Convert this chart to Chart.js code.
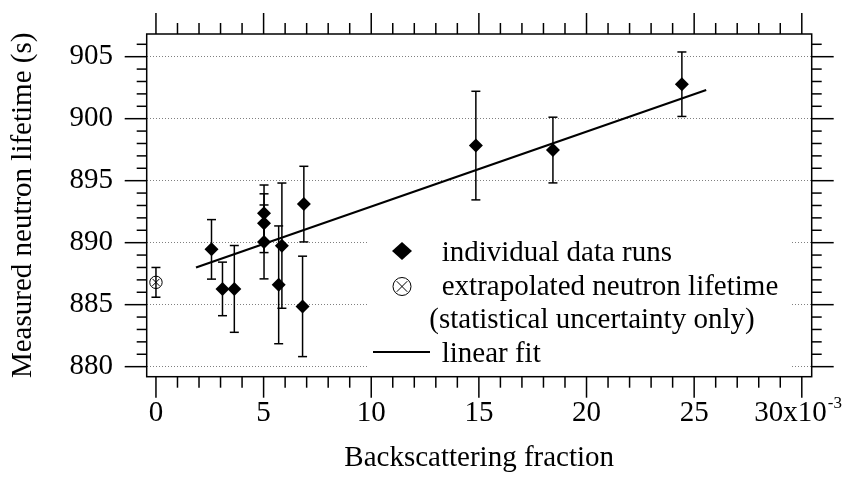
<!DOCTYPE html>
<html lang="en">
<head>
<meta charset="UTF-8">
<title>Neutron lifetime vs backscattering fraction</title>
<script src="https://cdn.jsdelivr.net/npm/chart.js"></script>
<style>
  html, body { margin: 0; padding: 0; background: #fff; }
  #wrap { width: 847px; height: 483px; }
</style>
</head>
<body>
<div id="wrap"><canvas id="chart" width="847" height="483"></canvas></div>
<script>
// backscattering fraction (units of 1e-3) and measured lifetime (s) per run
const runX   = [2.58, 3.09, 3.64, 5.02, 5.02, 5.02, 5.70, 5.85, 6.81, 6.87, 14.86, 18.44, 24.43];
const runY   = [889.46, 886.27, 886.27, 892.38, 891.57, 890.06, 886.6, 889.76, 884.86, 893.11, 897.83, 897.47, 902.78];
const runErr = [2.4, 2.16, 3.5, 2.27, 2.37, 2.98, 4.75, 5.05, 4.05, 3.05, 4.38, 2.65, 2.6];

// extrapolated lifetime at zero backscattering
const extrapX   = [0];
const extrapY   = [886.8];
const extrapErr = [1.2];

// ends of the linear fit
const fitX = [1.86, 25.56];
const fitY = [888.0, 902.31];

const xTicks = [0, 5, 10, 15, 20, 25, 30];
const yTicks = [880, 885, 890, 895, 900, 905];
const legendLabels = ['individual data runs', 'extrapolated neutron lifetime', '(statistical uncertainty only)', 'linear fit'];

const serif = '"Liberation Serif", "Times New Roman", serif';
const fontPx = 29;
Chart.defaults.font.family = serif;
Chart.defaults.color = '#000';

function line(ctx, x1, y1, x2, y2) {
    ctx.beginPath();
    ctx.moveTo(x1, y1);
    ctx.lineTo(x2, y2);
    ctx.stroke();
}

const decor = {
    id: 'decor',
    beforeDatasetsDraw(chart) {
        const { ctx } = chart;
        const xs = chart.scales.x, ys = chart.scales.y;
        ctx.save();
        ctx.strokeStyle = '#000';
        ctx.lineWidth = 1.5;
        [[runX, runY, runErr], [extrapX, extrapY, extrapErr]].forEach(([vx, vy, ve]) => {
            vx.forEach((v, i) => {
                const px = xs.getPixelForValue(v);
                const top = ys.getPixelForValue(vy[i] + ve[i]);
                const bot = ys.getPixelForValue(vy[i] - ve[i]);
                line(ctx, px, top, px, bot);
                line(ctx, px - 4.5, top, px + 4.5, top);
                line(ctx, px - 4.5, bot, px + 4.5, bot);
            });
        });
        ctx.restore();
    },
    afterDraw(chart) {
        const { ctx, chartArea: a } = chart;
        const xs = chart.scales.x, ys = chart.scales.y;
        ctx.save();

        // legend block hides the grid behind it
        ctx.fillStyle = '#fff';
        ctx.fillRect(369, 233, 421, a.bottom - 234);

        // frame and tick marks
        ctx.strokeStyle = '#000';
        ctx.lineWidth = 1.5;
        ctx.strokeRect(a.left, a.top, a.right - a.left, a.bottom - a.top);
        for (let v = 0; v <= 30; v++) {
            const px = xs.getPixelForValue(v);
            const len = v % 5 === 0 ? 21 : 11;
            line(ctx, px, a.bottom, px, a.bottom + len);
            line(ctx, px, a.top, px, a.top - len);
        }
        for (let v = 880; v <= 906; v++) {
            const py = ys.getPixelForValue(v);
            const len = v % 5 === 0 ? 22 : 10;
            line(ctx, a.left - len, py, a.left, py);
            line(ctx, a.right, py, a.right + len, py);
        }

        // last x label with exponent
        const px30 = xs.getPixelForValue(30);
        const ly = a.bottom + 19 + fontPx * 0.6;
        ctx.fillStyle = '#000';
        ctx.textBaseline = 'middle';
        ctx.textAlign = 'left';
        ctx.font = fontPx + 'px ' + serif;
        const w1 = ctx.measureText('30x10').width;
        const sx = px30 - 47.5;
        ctx.fillText('30x10', sx, ly);
        ctx.font = '17px ' + serif;
        ctx.fillText('-3', sx + w1 + 1, ly - 10);

        // legend
        const lx = 402;
        ctx.fillStyle = '#000';
        ctx.beginPath();
        ctx.moveTo(lx, 242); ctx.lineTo(lx + 10, 251);
        ctx.lineTo(lx, 260); ctx.lineTo(lx - 10, 251);
        ctx.closePath();
        ctx.fill();
        ctx.lineWidth = 1;
        ctx.beginPath();
        ctx.arc(lx, 286.5, 9, 0, Math.PI * 2);
        ctx.stroke();
        line(ctx, lx - 5.3, 281.2, lx + 5.3, 291.8);
        line(ctx, lx - 5.3, 291.8, lx + 5.3, 281.2);
        ctx.lineWidth = 2.2;
        line(ctx, 373, 352, 430, 352);

        ctx.font = fontPx + 'px ' + serif;
        ctx.textBaseline = 'alphabetic';
        ctx.fillText(legendLabels[0], 441.7, 261);
        ctx.fillText(legendLabels[1], 441.7, 295);
        ctx.fillText(legendLabels[2], 429.3, 328);
        ctx.fillText(legendLabels[3], 441.7, 362);
        ctx.restore();
    }
};

const toPoints = (xv, yv) => xv.map((v, i) => ({ x: v, y: yv[i] }));

new Chart(document.getElementById('chart'), {
    type: 'scatter',
    data: {
        datasets: [
            {
                label: 'linear fit',
                data: toPoints(fitX, fitY),
                showLine: true,
                borderColor: '#000',
                borderWidth: 2.2,
                pointRadius: 0
            },
            {
                label: 'individual data runs',
                data: toPoints(runX, runY),
                pointStyle: 'rectRot',
                pointRadius: 7,
                backgroundColor: '#000',
                borderWidth: 0
            },
            {
                label: 'extrapolated neutron lifetime',
                data: toPoints(extrapX, extrapY),
                pointStyle: 'circle',
                pointRadius: 6.2,
                backgroundColor: 'rgba(0,0,0,0)',
                borderColor: '#000',
                borderWidth: 1
            },
            {
                label: 'extrapolated cross',
                data: toPoints(extrapX, extrapY),
                pointStyle: 'crossRot',
                pointRadius: 5,
                borderColor: '#000',
                borderWidth: 1
            }
        ]
    },
    options: {
        responsive: false,
        animation: false,
        layout: { padding: { top: 34, right: 35.3, left: 0, bottom: 0 } },
        plugins: { legend: { display: false }, tooltip: { enabled: false } },
        scales: {
            x: {
                type: 'linear',
                min: -0.43,
                max: 30.46,
                afterBuildTicks: s => { s.ticks = xTicks.map(v => ({ value: v })); },
                afterFit: s => { s.height = 106.3; s.paddingLeft = 0; s.paddingRight = 0; },
                ticks: {
                    font: { size: fontPx },
                    padding: 19,
                    maxRotation: 0,
                    autoSkip: false,
                    callback: v => (v === 30 ? '' : v)
                },
                grid: { display: false, drawTicks: false },
                border: { display: false },
                title: {
                    display: true,
                    text: 'Backscattering fraction',
                    font: { size: fontPx },
                    padding: { top: 0, bottom: 7 }
                }
            },
            y: {
                type: 'linear',
                min: 879.19,
                max: 906.83,
                afterBuildTicks: s => { s.ticks = yTicks.map(v => ({ value: v })); },
                afterFit: s => { s.width = 146.7; s.paddingTop = 0; s.paddingBottom = 0; },
                ticks: { font: { size: fontPx }, padding: 33.7 },
                grid: { drawTicks: false, color: '#808080', lineWidth: 1 },
                border: { display: false, dash: [1, 2] },
                title: {
                    display: true,
                    text: 'Measured neutron lifetime (s)',
                    font: { size: fontPx },
                    padding: { top: 5.6, bottom: 0 }
                }
            }
        }
    },
    plugins: [decor]
});
</script>
</body>
</html>
